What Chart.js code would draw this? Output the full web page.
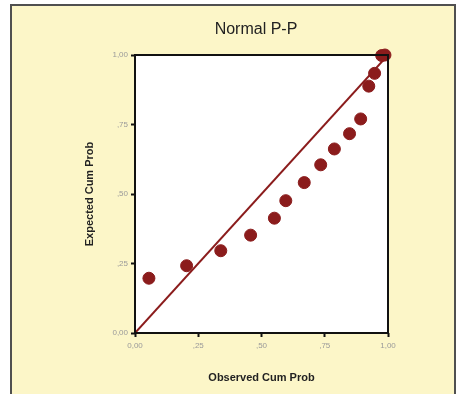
<!DOCTYPE html>
<html lang="en">
<head>
    <meta charset="UTF-8">
    <title>Normal P-P</title>
    <style>
        body {
    margin: 0;
    padding: 0;
    background-color: #ffffff;
    width: 456px;
    height: 394px;
    overflow: hidden;
}

.frame {
    position: absolute;
    left: 10px;
    top: 4px;
    width: 442px;
    height: 400px;
    border: 2px solid #505050;
    border-bottom: none;
    background-color: #fcf6c8;
}

#ppChart {
    position: absolute;
    left: 0;
    top: 0;
}
    </style>
</head>
<body>
    <div class="frame"></div>
    <canvas id="ppChart" width="456" height="394"></canvas>
    <script src="https://cdn.jsdelivr.net/npm/chart.js"></script>
    <script>
// Observed vs expected cumulative probabilities
const observed = [0.055, 0.204, 0.339, 0.457, 0.551, 0.596, 0.669, 0.734, 0.788, 0.848, 0.892, 0.924, 0.947, 0.975, 0.988];
const expected = [0.197, 0.242, 0.296, 0.352, 0.413, 0.476, 0.541, 0.605, 0.662, 0.717, 0.770, 0.888, 0.934, 0.998, 1.000];
const refLine = [0, 1];
const tickLabels = ['0,00', ',25', ',50', ',75', '1,00'];

const maroon = '#8b1c1c';

// frame around the plot area plus chart title
const framePlugin = {
    id: 'framePlugin',
    afterDraw(chart) {
        const {ctx, chartArea} = chart;
        ctx.save();
        ctx.strokeStyle = '#111';
        ctx.lineWidth = 2;
        ctx.strokeRect(chartArea.left, chartArea.top, chartArea.right - chartArea.left, chartArea.bottom - chartArea.top);
        ctx.restore();
    },
    beforeDatasetsDraw(chart) {
        const {ctx, chartArea} = chart;
        ctx.save();
        ctx.fillStyle = '#ffffff';
        ctx.fillRect(chartArea.left, chartArea.top, chartArea.right - chartArea.left, chartArea.bottom - chartArea.top);
        ctx.restore();
    }
};

const titlePlugin = {
    id: 'titlePlugin',
    afterDraw(chart) {
        const ctx = chart.ctx;
        ctx.save();
        ctx.fillStyle = '#222';
        ctx.font = '16px Arial, "Liberation Sans", sans-serif';
        ctx.textAlign = 'center';
        ctx.textBaseline = 'middle';
        ctx.fillText('Normal P-P', 256, 30);
        ctx.restore();
    }
};

const ctx = document.getElementById('ppChart').getContext('2d');

new Chart(ctx, {
    data: {
        datasets: [
            {
                type: 'line',
                data: refLine.map(v => ({x: v, y: v})),
                borderColor: maroon,
                borderWidth: 2,
                pointRadius: 0,
                fill: false,
                order: 2
            },
            {
                type: 'scatter',
                data: observed.map((v, i) => ({x: v, y: expected[i]})),
                backgroundColor: maroon,
                borderColor: maroon,
                pointRadius: 6,
                pointHoverRadius: 6,
                clip: false,
                order: 1
            }
        ]
    },
    options: {
        responsive: false,
        animation: false,
        layout: {
            padding: {left: 0, top: 55, right: 68, bottom: 0}
        },
        plugins: {
            legend: {display: false},
            tooltip: {enabled: false}
        },
        scales: {
            x: {
                type: 'linear',
                min: 0,
                max: 1,
                afterFit: s => { s.height = 61; },
                afterBuildTicks: s => { s.ticks = tickLabels.map((_, i) => ({value: i * 0.25})); },
                ticks: {
                    callback: (v, i) => tickLabels[i],
                    color: '#9a9a9a',
                    font: {size: 8, family: 'Arial'},
                    padding: 4,
                    maxRotation: 0
                },
                grid: {
                    drawOnChartArea: false,
                    color: '#111',
                    tickLength: 4,
                    tickWidth: 2
                },
                border: {display: false},
                title: {
                    display: true,
                    text: 'Observed Cum Prob',
                    color: '#222',
                    font: {size: 11, weight: 'bold', family: 'Arial'},
                    padding: {top: 0, bottom: 9}
                }
            },
            y: {
                type: 'linear',
                min: 0,
                max: 1,
                afterFit: s => { s.width = 135; },
                afterBuildTicks: s => { s.ticks = tickLabels.map((_, i) => ({value: i * 0.25})); },
                ticks: {
                    callback: (v, i) => tickLabels[i],
                    color: '#9a9a9a',
                    font: {size: 8, family: 'Arial'},
                    padding: 3
                },
                grid: {
                    drawOnChartArea: false,
                    color: '#111',
                    tickLength: 4,
                    tickWidth: 2
                },
                border: {display: false},
                title: {
                    display: true,
                    text: 'Expected Cum Prob',
                    color: '#222',
                    font: {size: 11, weight: 'bold', family: 'Arial'},
                    padding: {top: 83, bottom: 0}
                }
            }
        }
    },
    plugins: [framePlugin, titlePlugin]
});
    </script>
</body>
</html>
